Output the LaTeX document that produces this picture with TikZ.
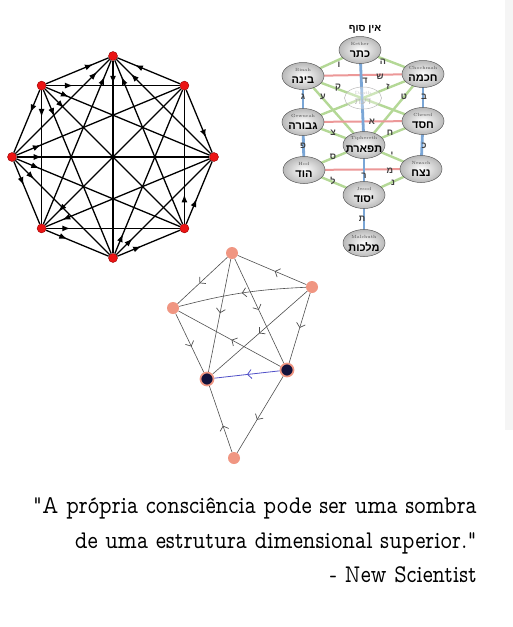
\documentclass[tikz,border=0pt]{standalone}
\usepackage{graphicx}
\usepackage{fontspec}
\usetikzlibrary{arrows.meta,decorations.markings,shapes.geometric,calc}
\TeXXeTstate=1
\newfontfamily\hebfont[Script=Hebrew]{Liberation Sans}
\newcommand\quotefnt{\fontfamily{lmvtt}\fontseries{m}\fontsize{25.5}{30}\selectfont}
\definecolor{kgreen}{RGB}{180,216,150}
\definecolor{kred}{RGB}{236,152,152}
\definecolor{kblue}{RGB}{122,166,214}
\definecolor{salmon}{RGB}{240,150,130}
\definecolor{navy}{RGB}{18,18,60}
\definecolor{hgray}{RGB}{80,80,80}
\definecolor{hblue}{RGB}{80,80,200}
\definecolor{octred}{RGB}{235,20,20}
\definecolor{octrim}{RGB}{150,0,0}
\pgfdeclarelayer{back}
\pgfdeclarelayer{bg}
\pgfsetlayers{back,bg,main}
\begin{document}
\begin{tikzpicture}[x=1pt,y=-1pt,
  octnode/.style={circle,fill=octred,draw=octrim,line width=0.4pt,minimum size=9pt,inner sep=0pt},
  oe/.style={line width=1.3pt,black,postaction={decorate},
    decoration={markings,mark=at position #1 with {\arrow{Latex[length=8pt,width=6pt]}}}},
  sefira/.style={ellipse,minimum width=42pt,minimum height=27pt,inner sep=0pt,
    draw=gray!70!black,line width=0.5pt,inner color=white,outer color=gray!55},
  sname/.style={font=\fontsize{4.5}{5}\selectfont,text=gray!60!black,inner sep=0pt},
  hname/.style={font=\hebfont\bfseries\fontsize{11}{12}\selectfont,inner sep=0pt},
  pl/.style={font=\hebfont\bfseries\fontsize{9}{10}\selectfont,text=black!75,inner sep=0pt},
  gpath/.style={kgreen,line width=2.4pt},
  rpath/.style={kred,line width=2pt},
  bpath/.style={kblue,line width=2.8pt},
  hnode/.style={circle,fill=salmon,minimum size=12pt,inner sep=0pt},
  dnode/.style={circle,fill=navy,draw=salmon,line width=1.7pt,minimum size=13pt,inner sep=0pt},
  he/.style={draw=hgray,line width=0.6pt,postaction={decorate},
    decoration={markings,mark=at position #1 with {\arrow[hgray,line width=0.7pt]{Straight Barb[length=4pt,width=9pt]}}}},
  hb/.style={draw=hblue,line width=0.8pt,postaction={decorate},
    decoration={markings,mark=at position #1 with {\arrow[hblue,line width=0.8pt]{Straight Barb[length=4pt,width=9pt]}}}}
]
\useasboundingbox (0,0) rectangle (513,627);
\begin{pgfonlayer}{back}
\fill[white] (0,0) rectangle (513,627);
\fill[black!4] (505,0) rectangle (513,430);
\end{pgfonlayer}

% ---------- complete directed graph on 8 vertices ----------
\node[octnode] (n0) at (113,56) {};
\node[octnode] (n1) at (41.6,85.6) {};
\node[octnode] (n2) at (12,157) {};
\node[octnode] (n3) at (41.6,228.4) {};
\node[octnode] (n4) at (113,258) {};
\node[octnode] (n5) at (184.4,228.4) {};
\node[octnode] (n6) at (214,157) {};
\node[octnode] (n7) at (184.4,85.6) {};
\begin{pgfonlayer}{bg}
\draw[oe=0.75] (n1) -- (n0);
\draw[oe=0.72] (n7) -- (n0);
\draw[oe=0.87] (n2) -- (n0);
\draw[oe=0.9] (n3) -- (n0);
\draw[oe=0.12] (n0) -- (n4);
\draw[oe=0.9] (n5) -- (n0);
\draw[oe=0.85] (n6) -- (n0);
\draw[oe=0.2] (n1) -- (n7);
\draw[oe=0.14] (n1) -- (n6);
\draw[oe=0.14] (n1) -- (n5);
\draw[oe=0.16] (n1) -- (n4);
\draw[oe=0.2] (n1) -- (n3);
\draw[oe=0.36] (n1) -- (n2);
\draw[oe=0.15] (n2) -- (n7);
\draw[oe=0.13] (n2) -- (n6);
\draw[oe=0.14] (n2) -- (n5);
\draw[oe=0.2] (n2) -- (n4);
\draw[oe=0.38] (n2) -- (n3);
\draw[oe=0.9] (n7) -- (n3);
\draw[oe=0.9] (n6) -- (n3);
\draw[oe=0.18] (n3) -- (n5);
\draw[oe=0.34] (n3) -- (n4);
\draw[oe=0.22] (n5) -- (n7);
\draw[oe=0.4] (n5) -- (n6);
\draw[oe=0.12] (n4) -- (n7);
\draw[oe=0.17] (n4) -- (n6);
\draw[oe=0.38] (n4) -- (n5);
\draw[oe=0.76] (n7) -- (n6);
\end{pgfonlayer}

% ---------- tree of life ----------
\node[font=\hebfont\bfseries\fontsize{10}{11}\selectfont,inner sep=0pt] (einsof) at (365,29) {\beginR אין סוף\endR};
\node[sefira] (keter) at (360,50) {};
\node[sefira] (binah) at (303,76) {};
\node[sefira] (chochmah) at (423,74) {};
\node[ellipse,minimum width=37pt,minimum height=22pt,inner sep=0pt,draw=gray!55,line width=0.5pt,fill=white,fill opacity=0.35] (daath) at (363,98) {};
\node[sefira] (gewurah) at (303,122) {};
\node[sefira] (chesed) at (423,121) {};
\node[sefira] (tiferet) at (364,145) {};
\node[sefira] (hod) at (304,170) {};
\node[sefira] (nezach) at (421,169) {};
\node[sefira] (yesod) at (364,195) {};
\node[sefira] (malchut) at (364,243) {};
\begin{pgfonlayer}{bg}
\draw[gpath] (keter.center) -- (binah.center);
\draw[gpath] (keter.center) -- (chochmah.center);
\draw[gpath] (binah.center) -- (chesed.center);
\draw[gpath] (chochmah.center) -- (gewurah.center);
\draw[gpath] (binah.center) -- (tiferet.center);
\draw[gpath] (chochmah.center) -- (tiferet.center);
\draw[gpath] (gewurah.center) -- (tiferet.center);
\draw[gpath] (chesed.center) -- (tiferet.center);
\draw[gpath] (tiferet.center) -- (hod.center);
\draw[gpath] (tiferet.center) -- (nezach.center);
\draw[gpath] (hod.center) -- (yesod.center);
\draw[gpath] (nezach.center) -- (yesod.center);
\draw[rpath] (binah.center) -- (chochmah.center);
\draw[rpath] (gewurah.center) -- (chesed.center);
\draw[rpath] (hod.center) -- (nezach.center);
\draw[bpath] (keter.center) -- (tiferet.center);
\draw[bpath] (binah.center) -- (gewurah.center);
\draw[bpath] (chochmah.center) -- (chesed.center);
\draw[bpath] (gewurah.center) -- (hod.center);
\draw[bpath] (chesed.center) -- (nezach.center);
\draw[bpath] (tiferet.center) -- (yesod.center);
\draw[bpath] (yesod.center) -- (malchut.center);
\end{pgfonlayer}
\foreach \s/\en/\hb in {keter/Kether/כתר,binah/Binah/בינה,chochmah/Chochmah/חכמה,gewurah/Gewurah/גבורה,
  chesed/Chesed/חסד,tiferet/Tiphereth/תפארת,hod/Hod/הוד,nezach/Nezach/נצח,yesod/Jesod/יסוד,malchut/Malchuth/מלכות}{
  \node[sname] at ($(\s.center)+(0,-6.5)$) {\en};
  \node[hname] at ($(\s.center)+(0,4)$) {\beginR\hb\endR};
}
\node[sname,text=gray!45] at ($(daath.center)+(0,-5)$) {Daath};
\node[hname,text=gray!55,font=\hebfont\fontsize{9}{10}\selectfont] at ($(daath.center)+(0,4)$) {\beginR דעת\endR};
% path letters
\node[pl] at (339,65) {ו};
\node[pl] at (383,62) {ה};
\node[pl] at (380,77) {ש};
\node[pl] at (365,81) {ד};
\node[pl] at (303,97) {ג};
\node[pl] at (424,97) {ב};
\node[pl] at (338,88) {ק};
\node[pl] at (388,87) {ז};
\node[pl] at (323,97) {ע};
\node[pl] at (404,97) {ט};
\node[pl] at (372,122) {א};
\node[pl] at (333,133) {צ};
\node[pl] at (390,133) {ח};
\node[pl] at (303,146) {פ};
\node[pl] at (424,146) {כ};
\node[pl] at (333,157) {ס};
\node[pl] at (392,155) {י};
\node[pl] at (390,171) {מ};
\node[pl] at (364,176) {ר};
\node[pl] at (333,181) {ל};
\node[pl] at (393,183) {נ};
\node[pl] at (362,219) {ת};

% ---------- hand drawn graph ----------
\node[hnode] (A) at (232,253) {};
\node[hnode] (B) at (312,287) {};
\node[hnode] (C) at (173,308) {};
\node[dnode] (D) at (207,379) {};
\node[dnode] (E) at (287,370) {};
\node[hnode] (F) at (234,458) {};
\begin{pgfonlayer}{bg}
\draw[he=0.46] (B) -- (A);
\draw[he=0.56] (A) -- (C);
\draw[he=0.5] (B) to[bend right=6] (C);
\draw[he=0.48] (A) -- (D);
\draw[he=0.49] (A) -- (E);
\draw[he=0.56] (C) -- (D);
\draw[he=0.48] (E) -- (C);
\draw[he=0.51] (B) -- (D);
\draw[he=0.5] (B) -- (E);
\draw[hb=0.5] (E) -- (D);
\draw[he=0.4] (F) -- (D);
\draw[he=0.57] (E) -- (F);
\end{pgfonlayer}

% ---------- quote ----------
\node[anchor=base east,inner sep=0pt] (q1) at (477,513) {\quotefnt\resizebox{444pt}{\height}{"A própria consciência pode ser uma sombra}};
\node[anchor=base east,inner sep=0pt] (q2) at (477,548) {\quotefnt\resizebox{402pt}{\height}{de uma estrutura dimensional superior."}};
\node[anchor=base east,inner sep=0pt] (q3) at (477,582) {\quotefnt\resizebox{147pt}{\height}{- New Scientist}};
\end{tikzpicture}
\end{document}
